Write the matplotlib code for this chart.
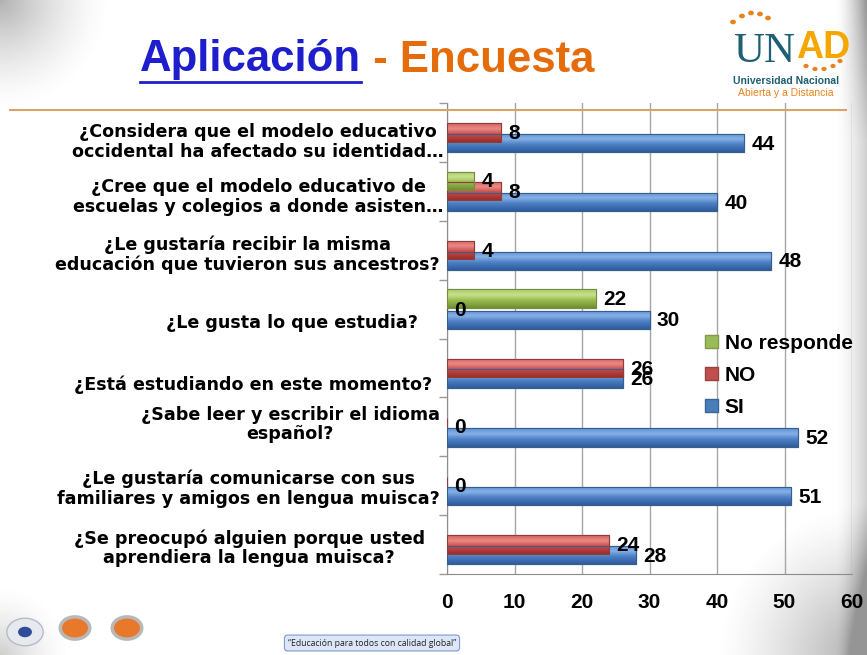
import numpy as np
import matplotlib
matplotlib.use("Agg")
import matplotlib.pyplot as plt
from matplotlib.patches import Patch, Circle
from matplotlib.lines import Line2D
from matplotlib.colors import LinearSegmentedColormap, to_rgb
from matplotlib.transforms import ScaledTranslation

categories = [
    "¿Considera que el modelo educativo\noccidental ha afectado su identidad…",
    "¿Cree que el modelo educativo de\nescuelas y colegios a donde asisten…",
    "¿Le gustaría recibir la misma\neducación que tuvieron sus ancestros?",
    "¿Le gusta lo que estudia?",
    "¿Está estudiando en este momento?",
    "¿Sabe leer y escribir el idioma\nespañol?",
    "¿Le gustaría comunicarse con sus\nfamiliares y amigos en lengua muisca?",
    "¿Se preocupó alguien porque usted\naprendiera la lengua muisca?",
]
si_values = [44, 40, 48, 30, 26, 52, 51, 28]
no_values = [8, 8, 4, 0, 26, 0, 0, 24]
nr_values = [None, 4, None, 22, None, None, None, None]
series_names = ["No responde", "NO", "SI"]
xticks = [0, 10, 20, 30, 40, 50, 60]

# per-label nudges (pixels) to mimic the original label placement
label_dx = [1, 1, -3, -25, -11, -3, -3, -18]
label_dy = [7, 3, 2, 12, 15, -5, 0, 1]

c_si = "#4A7EBB"
c_no = "#C0504D"
c_nr = "#9BBB59"
grad = {
    c_si: ["#5E92D8", "#86B0E6", "#4C80C4", "#2E5C9C"],
    c_no: ["#D8605C", "#E98A86", "#C64B47", "#9A2E2B"],
    c_nr: ["#A9CB62", "#C8E08E", "#98BB4E", "#6F8F32"],
}

W, H = 867, 655
fig = plt.figure(figsize=(W / 100, H / 100), dpi=100)
fig.patch.set_facecolor("white")

def fx(px):
    return px / W

def fy(py):
    return 1 - py / H

# slide background vignette (decoration)
bg = fig.add_axes([0, 0, 1, 1], zorder=-10)
bg.set_axis_off()
xx, yy = np.meshgrid(np.arange(W), np.arange(H))
right = np.clip((xx - 835) / 32.0, 0, 1) ** 1.6
wy = 0.35 + 0.45 * np.clip((140 - yy) / 140.0, 0, 1) + 0.55 * np.clip((yy - 500) / 155.0, 0, 1)
alpha = right * wy
tl = np.clip(1 - np.hypot(xx, yy) / 110.0, 0, 1) ** 1.5 * 0.55
bl = np.clip(1 - np.hypot(xx, (H - yy) * 1.0) / 70.0, 0, 1) ** 1.5 * 0.35
br = np.clip(1 - np.hypot(W - xx, H - yy) / 150.0, 0, 1) ** 1.3 * 0.6
alpha = np.clip(alpha + tl + bl + br, 0, 0.75)
img = np.zeros((H, W, 4))
img[..., :3] = 0.45
img[..., 3] = alpha
bg.imshow(img, extent=(0, 1, 0, 1), aspect="auto", interpolation="bilinear")
bg.set_xlim(0, 1)
bg.set_ylim(0, 1)

ax = fig.add_axes([fx(447), fy(574), fx(852) - fx(447), fy(103) - fy(574)])
ax.set_xlim(0, 60)
ax.set_ylim(7.5, -0.5)
ax.patch.set_alpha(0)

y = np.arange(len(categories))
h = 0.31
off = 0.18

def draw(vals, pos, color):
    cmap = LinearSegmentedColormap.from_list(
        "g", list(zip([0.0, 0.3, 0.6, 1.0], grad[color])))
    gimg = np.linspace(0, 1, 64).reshape(-1, 1)
    for yi, v in zip(pos, vals):
        if v is None:
            continue
        bars = ax.barh(yi, v, height=h, color=color, linewidth=0.8, zorder=3,
                       edgecolor=tuple(np.array(to_rgb(color)) * 0.75))
        if v > 0:
            im = ax.imshow(gimg, cmap=cmap, aspect="auto", zorder=3.5,
                           extent=(0, v, yi + h / 2, yi - h / 2), interpolation="bilinear")
            im.set_clip_path(bars[0])
            ax.barh(yi, v, height=h, facecolor="none", linewidth=0.8, zorder=4,
                    edgecolor=tuple(np.array(to_rgb(color)) * 0.75))

draw(si_values, y + off, c_si)
draw(no_values, y, c_no)
draw(nr_values, y - off, c_nr)
ax.set_xlim(0, 60)
ax.set_ylim(7.5, -0.5)

lab_font = dict(family="Liberation Sans", weight="bold", size=15)
for vals, pos in ((si_values, y + off), (no_values, y), (nr_values, y - off)):
    for yi, v in zip(pos, vals):
        if v is None:
            continue
        ax.text(v + 1.1, yi + 0.02, str(v), va="center", ha="left", zorder=6, **lab_font)

ax.set_xticks(xticks)
ax.set_xticklabels([str(t) for t in xticks], fontfamily="Liberation Sans",
                   fontweight="bold", fontsize=15)
ax.tick_params(axis="x", length=0, pad=14)
ax.set_yticks(y)
ax.set_yticklabels(categories, fontfamily="DejaVu Sans", fontweight="bold",
                   fontsize=12.6, multialignment="center", linespacing=1.12)
ax.tick_params(axis="y", length=0, pad=3)
for lab, dx, dy in zip(ax.get_yticklabels(), label_dx, label_dy):
    lab.set_transform(lab.get_transform() +
                      ScaledTranslation(dx / 100, -dy / 100, fig.dpi_scale_trans))
ax.set_yticks(np.arange(-0.5, 8.0, 1.0), minor=True)
ax.tick_params(axis="y", which="minor", length=6, color="#999999", width=1)
ax.xaxis.grid(True, color="#A6A6A6", linewidth=1, zorder=0)
ax.set_axisbelow(True)
for s in ("top", "right"):
    ax.spines[s].set_visible(False)
for s in ("left", "bottom"):
    ax.spines[s].set_color("#8C8C8C")

handles = [Patch(facecolor=c_nr, edgecolor="#7F9A48"),
           Patch(facecolor=c_no, edgecolor="#9A403E"),
           Patch(facecolor=c_si, edgecolor="#3B6596")]
leg = fig.legend(handles, series_names, loc="upper left",
                 bbox_to_anchor=(fx(705), fy(334)), frameon=False,
                 prop=dict(family="Liberation Sans", weight="bold", size=15),
                 handlelength=0.6, handleheight=0.6, handletextpad=0.35,
                 labelspacing=0.62, borderaxespad=0, borderpad=0)

# Title
t1 = fig.text(fx(140), fy(60), "Aplicación", color="#1E1ECC", fontsize=31.5,
              fontfamily="Liberation Sans", fontweight="bold", va="center", ha="left")
fig.canvas.draw()
bb = t1.get_window_extent()
fig.add_artist(Line2D([bb.x0 / W, bb.x1 / W], [fy(82), fy(82)], color="#1E1ECC",
                      linewidth=2, transform=fig.transFigure))
fig.text(bb.x1 / W, fy(60), " - Encuesta", color="#E46C0A", fontsize=31.5,
         fontfamily="Liberation Sans", fontweight="bold", va="center", ha="left")

# Orange separator line
fig.add_artist(Line2D([fx(10), fx(846)], [fy(110), fy(110)], color="#D9A468",
                      linewidth=1.5, transform=fig.transFigure, zorder=5))

# Logo (text approximation)
fig.text(fx(733), fy(52), "UN", color="#1D5F73", fontsize=31, fontfamily="Liberation Serif",
         va="center", ha="left")
fig.text(fx(796), fy(48), "AD", color="#F5A700", fontsize=27, fontfamily="Liberation Sans",
         fontweight="bold", va="center", ha="left")
for px, py in ((733, 22), (742, 16), (751, 13), (760, 14), (768, 18)):
    fig.add_artist(Circle((fx(px), fy(py)), 0.0025, color="#E8821E",
                          transform=fig.transFigure))
for px, py in ((806, 66), (815, 69), (824, 69), (833, 66), (840, 61)):
    fig.add_artist(Circle((fx(px), fy(py)), 0.0022, color="#E8821E",
                          transform=fig.transFigure))
fig.text(fx(786), fy(81), "Universidad Nacional", color="#1D5F73", fontsize=7.5,
         fontfamily="Liberation Sans", fontweight="bold", va="center", ha="center")
fig.text(fx(786), fy(93), "Abierta y a Distancia", color="#E8821E", fontsize=7.5,
         fontfamily="Liberation Sans", va="center", ha="center")

# Footer
fig.text(fx(372), fy(643), "\u201cEducación para todos con calidad global\u201d", fontsize=6.2,
         fontfamily="Open Sans", va="center", ha="center", color="#222222",
         bbox=dict(boxstyle="round,pad=0.4", facecolor="#DCE6F7", edgecolor="#7D9BD0",
                   linewidth=0.8))

# Bottom-left seals (approximations)
fig.add_artist(Circle((fx(25), fy(632)), 0.021, facecolor="#E6E9EE", edgecolor="#B5BCC8",
                      transform=fig.transFigure))
fig.add_artist(Circle((fx(25), fy(632)), 0.008, facecolor="#2E4C9A", edgecolor="none",
                      transform=fig.transFigure))
for cx in (75, 127):
    fig.add_artist(Circle((fx(cx), fy(628)), 0.017, facecolor="#E8782A", edgecolor="#B8B8B8",
                          linewidth=2.5, transform=fig.transFigure))

fig.savefig("out.png", dpi=100, facecolor="white")
